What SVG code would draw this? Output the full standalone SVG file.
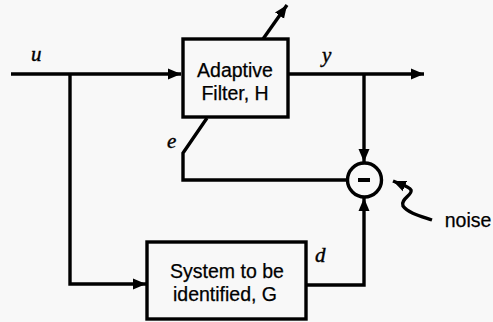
<svg xmlns="http://www.w3.org/2000/svg" width="493" height="322" viewBox="0 0 493 322">
<style>
.ln{fill:none;stroke:#000;stroke-width:3.4;stroke-linejoin:miter}
.box{fill:none;stroke:#000;stroke-width:3.4}
.t{font-family:"Liberation Sans",Arial,sans-serif;font-size:19.5px;fill:#000;text-anchor:middle;stroke:#000;stroke-width:0.25}
.v{font-family:"Liberation Serif","Times New Roman",serif;font-style:italic;font-size:21px;fill:#000;stroke:#000;stroke-width:0.4}
</style>
<defs>
<marker id="ah" markerUnits="userSpaceOnUse" markerWidth="15" markerHeight="13" refX="13" refY="6.5" orient="auto">
<path d="M0,1 L13,6.5 L0,12 Z" fill="#000"/>
</marker>
</defs>
<rect width="493" height="322" fill="#f8f8f8"/>
<g id="connectors">
<path class="ln" d="M11,74 H181" marker-end="url(#ah)"/>
<path class="ln" d="M70,74 V284 H146" marker-end="url(#ah)"/>
<path class="ln" d="M288,74 H424" marker-end="url(#ah)"/>
<path class="ln" d="M364,74 V162" marker-end="url(#ah)"/>
<path class="ln" d="M263,39 L287,5" marker-end="url(#ah)"/>
<path class="ln" d="M207,118 L183,153 V180 H347"/>
<path class="ln" d="M306,285 H364 V198" marker-end="url(#ah)"/>
<path class="ln" d="M432,220 C420,216 408,213 403,206 C400,199 413,195 411,190 C409,186 400,184 393,181" marker-end="url(#ah)"/>
</g>
<g id="filter">
<rect class="box" x="183" y="39" width="105" height="78"/>
<text class="t" x="235" y="77">Adaptive</text>
<text class="t" x="235" y="100">Filter, H</text>
</g>
<g id="system">
<rect class="box" x="147" y="242" width="159" height="77"/>
<text class="t" x="227" y="278">System to be</text>
<text class="t" x="225" y="301">identified, G</text>
</g>
<g id="sum">
<circle cx="364.5" cy="180" r="17" fill="none" stroke="#000" stroke-width="3.4"/>
<rect x="358" y="178" width="12" height="4" fill="#000"/>
</g>
<g id="labels">
<text class="v" x="31" y="61">u</text>
<text class="v" x="322" y="62">y</text>
<text class="v" x="167" y="148">e</text>
<text class="v" x="315" y="262">d</text>
<text class="t" x="468" y="227">noise</text>
</g>
</svg>
